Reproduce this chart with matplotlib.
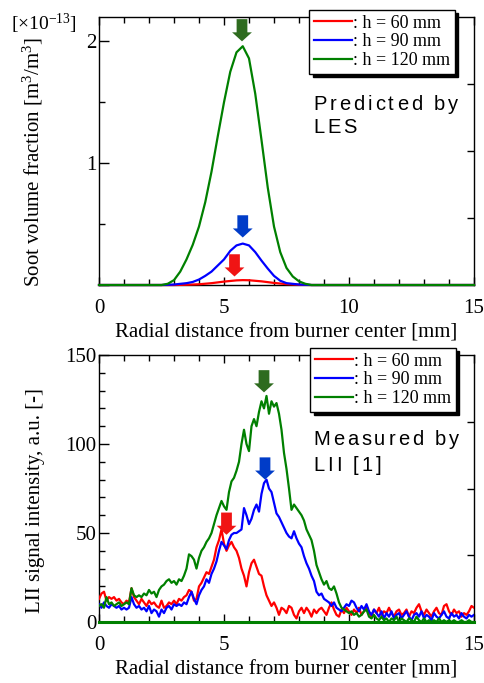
import numpy as np
import matplotlib
matplotlib.use('Agg')
import matplotlib.pyplot as plt
from matplotlib.transforms import offset_copy
from matplotlib.font_manager import FontProperties, findfont, get_font

plt.rcParams['font.family'] = ['Liberation Serif', 'DejaVu Serif']
plt.rcParams['mathtext.fontset'] = 'custom'
plt.rcParams['mathtext.rm'] = 'Liberation Serif'
plt.rcParams['mathtext.it'] = 'Liberation Serif:italic'
plt.rcParams['mathtext.bf'] = 'Liberation Serif:bold'

# ---------------- data: top panel (LES) ----------------
les_labels = [': h = 60 mm', ': h = 90 mm', ': h = 120 mm']
les_r60 = [0.0, 3.0, 3.5, 4.0, 4.5, 5.0, 5.5, 5.75, 6.0, 6.5, 7.0, 7.5, 8.0, 8.5, 15.0]
les_f60 = [0.0, 0.0, 0.002, 0.006, 0.015, 0.028, 0.038, 0.040, 0.039, 0.030, 0.017, 0.007, 0.002, 0.0, 0.0]
les_r90 = [0.0, 2.5, 3.0, 3.5, 3.75, 4.0, 4.25, 4.5, 4.75, 5.0, 5.25, 5.5, 5.75, 6.0, 6.25,
           6.5, 6.75, 7.0, 7.25, 7.5, 8.0, 8.5, 15.0]
les_f90 = [0.0, 0.0, 0.004, 0.015, 0.025, 0.045, 0.075, 0.11, 0.16, 0.21, 0.28, 0.325, 0.34, 0.325, 0.27,
           0.20, 0.135, 0.075, 0.035, 0.015, 0.004, 0.0, 0.0]
les_r120 = [0.0, 2.5, 2.75, 3.0, 3.25, 3.5, 3.75, 4.0, 4.25, 4.5, 4.75, 5.0, 5.25, 5.5, 5.75,
            6.0, 6.25, 6.5, 6.75, 7.0, 7.25, 7.5, 7.75, 8.0, 8.25, 8.5, 15.0]
les_f120 = [0.0, 0.0, 0.01, 0.04, 0.11, 0.21, 0.33, 0.48, 0.68, 0.93, 1.22, 1.50, 1.75, 1.91, 1.96,
            1.86, 1.57, 1.19, 0.80, 0.48, 0.27, 0.14, 0.07, 0.03, 0.01, 0.0, 0.0]
les_arrow_x = [5.42, 5.75, 5.72]
les_arrow_tip = [0.07, 0.39, 2.0]

# ---------------- data: bottom panel (LII) ----------------
lii_r = np.round(np.linspace(0.0, 15.0, 151), 1)
lii_60 = [13, 16, 17, 12, 14, 13, 14, 12, 13, 11,
          10, 12, 11, 19, 14, 12, 10, 13, 11, 9,
          12, 10, 11, 9, 8, 12, 8, 9, 11, 10,
          12, 10, 13, 12, 14, 15, 18, 17, 12, 13,
          20, 22, 25, 28, 27, 31, 35, 42, 46, 52,
          44, 40, 43, 45, 42, 40, 36, 30, 26, 20,
          28, 33, 35, 31, 27, 26, 20, 15, 12, 9,
          11, 8, 4, 8, 7, 5, 9, 8, 4, 2,
          6, 8, 5, 8, 6, 3, 7, 5, 7, 8,
          6, 4, 8, 11, 7, 4, 3, 7, 5, 8,
          6, 4, 7, 5, 8, 4, 6, 9, 5, 3,
          7, 5, 8, 4, 6, 5, 8, 5, 3, 6,
          7, 4, 5, 7, 3, 6, 5, 8, 10, 6,
          4, 7, 5, 3, 6, 8, 5, 4, 9, 10,
          6, 4, 7, 5, 6, 3, 5, 4, 6, 9,
          8]
lii_90 = [10, 8, 11, 9, 8, 10, 9, 8, 9, 7,
          8, 7, 8, 14, 10, 8, 9, 7, 8, 6,
          9, 5, 7, 6, 3, 7, 5, 8, 9, 7,
          10, 9, 10, 9, 11, 10, 14, 17, 13, 10,
          15, 18, 20, 24, 22, 27, 30, 34, 40, 45,
          43, 41, 46, 49, 50, 50, 51, 52, 64, 60,
          55, 58, 63, 66, 62, 72, 78, 80, 75, 73,
          67, 61, 59, 56, 53, 50, 48, 47, 51, 47,
          44, 42, 37, 33, 30, 26, 23, 17, 15, 16,
          13, 12, 11, 9, 11, 8, 7, 6, 8, 10,
          9, 12, 11, 8, 6, 9, 7, 10, 6, 4,
          7, 5, 3, 6, 2, 5, 3, 6, 2, 4,
          5, 2, 4, 6, 3, 1, 4, 5, 3, 6,
          2, 4, 3, 1, 5, 3, 2, 4, 6, 3,
          2, 5, 3, 4, 2, 5, 3, 2, 4, 3,
          4]
lii_120 = [9, 10, 8, 14, 10, 11, 9, 10, 11, 9,
           10, 11, 10, 19, 15, 14, 15, 14, 16, 15,
           18, 16, 17, 14, 18, 20, 21, 23, 24, 22,
           23, 21, 24, 23, 26, 30, 38, 37, 35, 30,
           36, 40, 42, 45, 47, 50, 55, 60, 64, 68,
           65, 63, 73, 79, 81, 85, 90, 100, 108, 100,
           96, 110, 114, 110, 118, 124, 120, 127, 117, 124,
           121, 123, 117, 108, 95, 86, 75, 63, 66, 64,
           62, 60, 57, 52, 49, 46, 40, 32, 28, 24,
           21, 23, 19, 18, 20, 16, 11, 8, 7, 6,
           5, 6, 4, 5, 3, 4, 6, 7, 3, 2,
           4, 2, 1, 3, 1, 2, 0, 2, 1, 3,
           0, 2, 1, 0, 2, 1, 0, 3, 1, 0,
           2, 0, 1, 0, 1, 0, 2, 0, 1, 0,
           1, 0, 1, 0, 0, 1, 0, 0, 1, 0,
           0]
lii_arrow_x = [5.1, 6.64, 6.6]
lii_arrow_tip = [49, 80, 129]

line_colors = ['#ff0000', '#0000ff', '#008000']
arrow_colors = ['#f01414', '#003cc8', '#2e6b1f']

# ---------------- figure ----------------
W, H = 485, 683
fig = plt.figure(figsize=(W / 100, H / 100), dpi=100)
ax1 = fig.add_axes([99 / W, (H - 285) / H, 375 / W, 268 / H])
ax2 = fig.add_axes([99 / W, (H - 622) / H, 375 / W, 267 / H])

lw = 1.6
ax1.plot(les_r60, les_f60, color=line_colors[0], lw=lw, label=les_labels[0], clip_on=False, zorder=3)
ax1.plot(les_r90, les_f90, color=line_colors[1], lw=lw, label=les_labels[1], clip_on=False, zorder=3)
ax1.plot(les_r120, les_f120, color=line_colors[2], lw=lw, label=les_labels[2], clip_on=False, zorder=3)

ax2.plot(lii_r, lii_60, color=line_colors[0], lw=lw, label=les_labels[0], zorder=3)
ax2.plot(lii_r, lii_90, color=line_colors[1], lw=lw, label=les_labels[1], zorder=3)
ax2.plot(lii_r, lii_120, color=line_colors[2], lw=lw, label=les_labels[2], zorder=3)


def arrow(ax, x, tip, color):
    ax.annotate('', xy=(x, tip), xytext=(0, 16), textcoords='offset points',
                xycoords='data',
                arrowprops=dict(arrowstyle='simple,head_length=0.42,head_width=0.92,tail_width=0.5',
                                mutation_scale=15.5, color=color, shrinkA=0, shrinkB=0, lw=0),
                zorder=5, annotation_clip=False)


for ax, xs, tips in [(ax1, les_arrow_x, les_arrow_tip), (ax2, lii_arrow_x, lii_arrow_tip)]:
    for x, t, c in zip(xs, tips, arrow_colors):
        arrow(ax, x, t, c)

# axes limits / ticks
for ax in (ax1, ax2):
    ax.set_xlim(0, 15)
    ax.set_xticks([0, 5, 10, 15])
    ax.set_xticks(np.arange(0, 16, 1), minor=True)
    ax.tick_params(axis='x', which='both', direction='in', top=True, labelsize=15, pad=10)
    ax.tick_params(axis='x', which='major', length=6, width=1)
    ax.tick_params(axis='x', which='minor', length=4, width=1)
    ax.tick_params(axis='y', which='both', direction='in', labelsize=15, pad=2)
    ax.tick_params(axis='y', which='major', length=7, width=1)
    ax.tick_params(axis='y', which='minor', length=4, width=1)
    for s in ax.spines.values():
        s.set_linewidth(1.0)
    ax.set_xlabel('Radial distance from burner center [mm]', fontsize=15, labelpad=4)

ax1.set_ylim(0, 2.2)
ax1.set_yticks([0, 1, 2])
ax1.set_yticklabels(['', '1', '2'])
ax1.set_yticks(np.arange(0, 2.25, 0.5), minor=True)
ax2.set_ylim(0, 150)
ax2.set_yticks([0, 50, 100, 150])
ax2.set_yticks(np.arange(0, 151, 10), minor=True)
ax2.spines['bottom'].set_color('#008000')
ax2.spines['bottom'].set_linewidth(2.2)
ax2.spines['bottom'].set_zorder(4)

# right-side ticks at quarter intervals
for ax, ymax in ((ax1, 2.2), (ax2, 150)):
    tw = ax.twinx()
    tw.set_ylim(0, ymax)
    tw.set_yticks([ymax / 4, ymax / 2, 3 * ymax / 4])
    tw.tick_params(axis='y', direction='in', length=5, width=1, labelright=False)
    for s in tw.spines.values():
        s.set_visible(False)

ax1.set_ylabel('Soot volume fraction [m$^3$/m$^3$]', fontsize=15)
ax1.yaxis.set_label_coords(-54 / 375, (285 - 162) / 268)
ax2.set_ylabel('LII signal intensity, a.u. [-]', fontsize=15)
ax2.yaxis.set_label_coords(-54 / 375, (622 - 501) / 267)
fig.text(44 / W, (H - 24) / H, r'[$\times$10$^{-13}$]', fontsize=14, ha='center', va='center')

# legends
for ax, anchor in ((ax1, (356 / 375, (285 - 10) / 268)), (ax2, (357 / 375, (622 - 348) / 267))):
    leg = ax.legend(loc='upper right', bbox_to_anchor=anchor, borderaxespad=0,
                    fontsize=13, frameon=True, fancybox=False, framealpha=1,
                    edgecolor='black', handlelength=2.15, handletextpad=0.05,
                    labelspacing=0.1, borderpad=0.25,
                    shadow={'ox': 2.5, 'oy': -2.5, 'color': 'black', 'alpha': 1})
    leg.get_frame().set_linewidth(1.0)
    leg.set_zorder(10)

# letter-spaced sans-serif annotations
sans = FontProperties(family='Liberation Sans', size=14.5)
ft = get_font(findfont(sans))
ft.set_size(14.5, 100)


def spaced(xpx, ypx, s, spacing):
    off = 0.0
    for ch in s:
        tr = offset_copy(fig.transFigure, fig=fig, x=off, y=0, units='dots')
        fig.text(xpx / W, (H - ypx) / H, ch, transform=tr, fontproperties=sans,
                 ha='left', va='baseline', color='black')
        g = ft.load_char(ord(ch))
        off += g.linearHoriAdvance / 65536 + spacing


spaced(313, 110, 'Predicted by', 3.0)
spaced(313, 133, 'LES', 3.0)
spaced(313, 445, 'Measured by', 3.0)
spaced(313, 471, 'LII [1]', 3.0)

fig.savefig('out.png', dpi=100)
